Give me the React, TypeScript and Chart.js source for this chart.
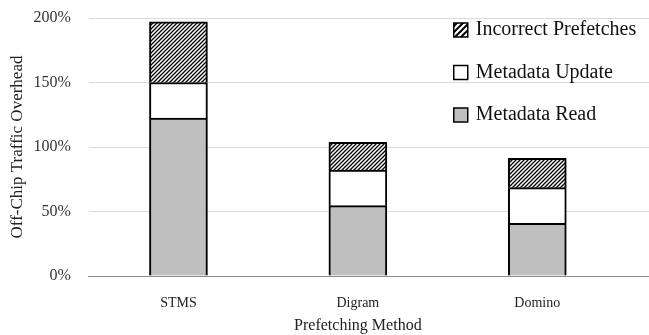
import React, { useEffect, useRef } from "react";
import { Chart, registerables } from "chart.js";

Chart.register(...registerables);

const categories = ["STMS", "Digram", "Domino"];
const metadataRead = [122.5, 54.5, 40.8];
const metadataUpdate = [27.5, 27.7, 27.7];
const incorrectPrefetches = [47, 21.4, 22.7];
const yTicks = [0, 50, 100, 150, 200];
const legendOrder = ["Incorrect Prefetches", "Metadata Update", "Metadata Read"];

const FONT = "'Liberation Serif', 'Times New Roman', serif";

function makeHatch(ctxScale = 1): CanvasPattern | string {
  const c = document.createElement("canvas");
  const s = 4 * ctxScale;
  c.width = s;
  c.height = s;
  const g = c.getContext("2d");
  if (!g) return "#fff";
  g.fillStyle = "#fff";
  g.fillRect(0, 0, s, s);
  g.strokeStyle = "#000";
  g.lineWidth = 1.3 * ctxScale;
  g.beginPath();
  g.moveTo(-1, s + 1);
  g.lineTo(s + 1, -1);
  g.moveTo(-1 - s, s + 1);
  g.lineTo(1, -1);
  g.moveTo(s - 1, s + 1);
  g.lineTo(2 * s + 1, -1);
  g.stroke();
  const p = g.createPattern(c, "repeat");
  return p || "#fff";
}

export default function App() {
  const ref = useRef<HTMLCanvasElement | null>(null);

  useEffect(() => {
    document.body.style.margin = "0";
    const canvas = ref.current;
    if (!canvas) return;
    const hatch = makeHatch(1);
    const hatchBig = makeHatch(1.5);

    const extendPlugin = {
      id: "extendGrid",
      beforeDatasetsDraw(chart: any) {
        const { ctx, chartArea } = chart;
        const y = chart.scales.y;
        ctx.save();
        ctx.lineWidth = 1;
        yTicks.forEach((v) => {
          const py = Math.round(y.getPixelForValue(v) - 0.5) + 0.5;
          ctx.strokeStyle = v === 0 ? "#8c8c8c" : "#d9d9d9";
          ctx.beginPath();
          ctx.moveTo(chartArea.right - 1, py);
          ctx.lineTo(chart.width, py);
          ctx.stroke();
        });
        ctx.restore();
      },
    };

    const legendPlugin = {
      id: "customLegend",
      afterDraw(chart: any) {
        const { ctx, chartArea } = chart;
        ctx.save();
        const fills: any[] = [hatchBig, "#ffffff", "#bfbfbf"];
        const x0 = chartArea.left + 365;
        legendOrder.forEach((label, i) => {
          const top = chartArea.top + 5 + i * 42.5;
          ctx.fillStyle = fills[i];
          ctx.fillRect(x0, top, 14, 14);
          ctx.strokeStyle = "#000";
          ctx.lineWidth = 1.5;
          ctx.strokeRect(x0, top, 14, 14);
          ctx.fillStyle = "#111";
          ctx.font = `20px ${FONT}`;
          ctx.textBaseline = "middle";
          ctx.textAlign = "left";
          ctx.fillText(label, x0 + 22, top + 7);
        });
        ctx.restore();
      },
    };

    const chart = new Chart(canvas, {
      type: "bar",
      data: {
        labels: categories,
        datasets: [
          {
            label: "Metadata Read",
            data: metadataRead,
            backgroundColor: "#bfbfbf",
            borderColor: "#000",
            borderWidth: 2,
            barThickness: 58,
          },
          {
            label: "Metadata Update",
            data: metadataUpdate,
            backgroundColor: "#ffffff",
            borderColor: "#000",
            borderWidth: 2,
            barThickness: 58,
          },
          {
            label: "Incorrect Prefetches",
            data: incorrectPrefetches,
            backgroundColor: hatch as any,
            borderColor: "#000",
            borderWidth: 2,
            barThickness: 58,
          },
        ],
      },
      options: {
        responsive: false,
        animation: false,
        layout: { padding: { top: 18, right: 22, left: 0, bottom: 0 } },
        plugins: {
          legend: { display: false },
          tooltip: { enabled: false },
        },
        scales: {
          x: {
            stacked: true,
            grid: { display: false, drawTicks: false },
            border: { display: true, color: "#8c8c8c", width: 1 },
            ticks: {
              color: "#222",
              font: { family: FONT, size: 14 },
              padding: 19,
            },
            title: {
              display: true,
              text: "Prefetching Method",
              color: "#222",
              font: { family: FONT, size: 16 },
              padding: { top: 0, bottom: 0 },
            },
            afterFit(scale: any) {
              scale.height = 59;
            },
          },
          y: {
            stacked: true,
            min: 0,
            max: 200,
            grid: {
              color: "#d9d9d9",
              drawTicks: true,
              tickLength: 18,
              tickColor: "rgba(0,0,0,0)",
            },
            border: { display: false },
            afterBuildTicks(scale: any) {
              scale.ticks = yTicks.map((v) => ({ value: v }));
            },
            ticks: {
              color: "#333",
              font: { family: FONT, size: 16 },
              padding: 0,
              callback: (v: any) => `${v}%`,
            },
            title: {
              display: true,
              text: "Off-Chip Traffic Overhead",
              color: "#222",
              font: { family: FONT, size: 17 },
              padding: { top: 7, bottom: 0 },
            },
            afterFit(scale: any) {
              scale.width = 88.75;
            },
          },
        },
      },
      plugins: [extendPlugin, legendPlugin],
    });
    return () => chart.destroy();
  }, []);

  return (
    <div style={{ width: 649, height: 335 }}>
      <canvas ref={ref} width={649} height={335} style={{ display: "block" }} />
    </div>
  );
}
